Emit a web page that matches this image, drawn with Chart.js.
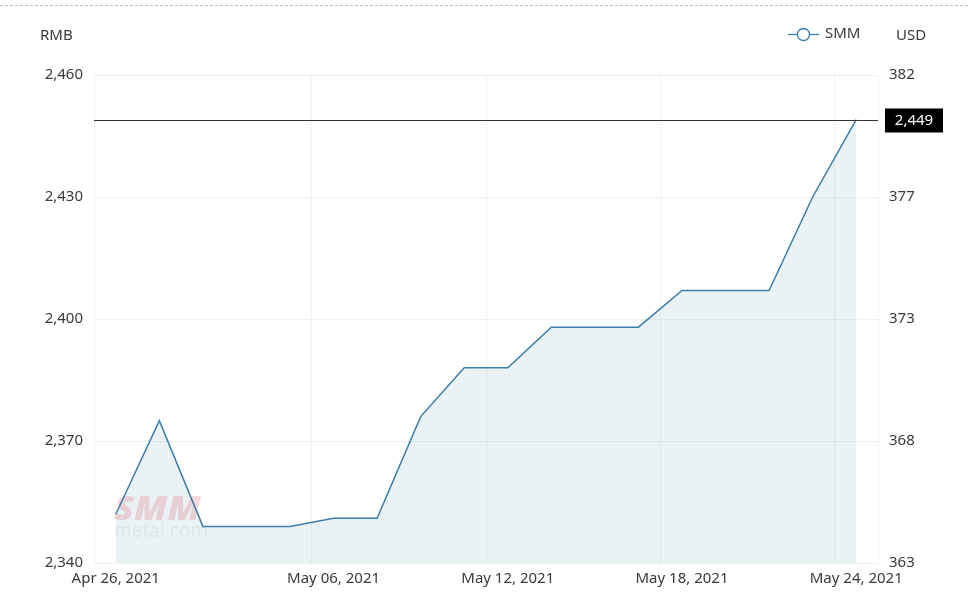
<!DOCTYPE html>
<html>
<head>
<meta charset="utf-8">
<script src="https://cdn.jsdelivr.net/npm/chart.js@4/dist/chart.umd.min.js"></script>
<style>
  html, body { margin: 0; padding: 0; background: #fff; }
  #wrap { width: 970px; height: 598px; position: relative; }
</style>
</head>
<body>
<div id="wrap"><canvas id="priceChart"></canvas></div>
<script>
const dates = [
    'Apr 26, 2021', 'Apr 27, 2021', 'Apr 28, 2021', 'Apr 29, 2021', 'Apr 30, 2021',
    'May 06, 2021', 'May 07, 2021', 'May 10, 2021', 'May 11, 2021', 'May 12, 2021',
    'May 13, 2021', 'May 14, 2021', 'May 17, 2021', 'May 18, 2021', 'May 19, 2021',
    'May 20, 2021', 'May 21, 2021', 'May 24, 2021'
];
const rmbPrices = [2352, 2375, 2349, 2349, 2349, 2351, 2351, 2376, 2388, 2388, 2398, 2398, 2398, 2407, 2407, 2407, 2430, 2449];
const shownDates = ['Apr 26, 2021', 'May 06, 2021', 'May 12, 2021', 'May 18, 2021', 'May 24, 2021'];
const gridDates = ['May 06, 2021', 'May 12, 2021', 'May 18, 2021', 'May 24, 2021'];
const rmbRange = [2340, 2460];
const rmbStep = 30;
const usdTicks = [363, 368, 373, 377, 382];
const seriesName = 'SMM';

const FONT = '"Noto Sans", "Open Sans", sans-serif';
const TEXT = '#3a3a3a';
const LINE = '#3b7dab';
const GRID = '#f1f1f1';
const FSIZE = 15;

function fmt(n) {
    return n.toLocaleString('en-US');
}

// header texts, legend, dashed top rule, watermark and last-price marker
const decorations = {
    id: 'decorations',
    beforeDraw(chart) {
        const ctx = chart.ctx;
        ctx.save();
        ctx.fillStyle = '#fff';
        ctx.fillRect(0, 0, chart.width, chart.height);
        ctx.strokeStyle = '#bbb';
        ctx.lineWidth = 1;
        ctx.setLineDash([3, 2]);
        ctx.beginPath();
        ctx.moveTo(0, 5.5);
        ctx.lineTo(chart.width, 5.5);
        ctx.stroke();
        ctx.restore();
    },
    beforeDatasetsDraw(chart) {
        const ctx = chart.ctx;
        ctx.save();
        ctx.globalAlpha = 0.2;
        ctx.fillStyle = '#f03a44';
        ctx.font = 'italic 900 36px ' + FONT;
        ctx.textBaseline = 'alphabetic';
        ctx.translate(114, 520);
        ctx.scale(1.02, 0.95);
        ctx.fillText('SMM', 0, 0);
        ctx.restore();
        ctx.save();
        ctx.globalAlpha = 0.13;
        ctx.fillStyle = '#999';
        ctx.font = '19px ' + FONT;
        ctx.fillText('metal.com', 114, 537);
        ctx.restore();
    },
    afterDraw(chart) {
        const ctx = chart.ctx;
        const area = chart.chartArea;
        const y = chart.scales.y;
        ctx.save();
        ctx.font = FSIZE + 'px ' + FONT;
        ctx.fillStyle = TEXT;
        ctx.textBaseline = 'middle';
        ctx.textAlign = 'left';
        ctx.fillText('RMB', 40, 36);
        ctx.fillText('USD', 896, 36);

        // legend
        ctx.strokeStyle = LINE;
        ctx.lineWidth = 1.3;
        ctx.beginPath();
        ctx.moveTo(788, 34.5);
        ctx.lineTo(819, 34.5);
        ctx.stroke();
        ctx.beginPath();
        ctx.arc(803.5, 34.5, 6, 0, Math.PI * 2);
        ctx.fillStyle = '#fff';
        ctx.fill();
        ctx.stroke();
        ctx.fillStyle = TEXT;
        ctx.fillText(chart.data.datasets[0].label, 825, 34);

        // last price marker
        const last = rmbPrices[rmbPrices.length - 1];
        const py = Math.round(y.getPixelForValue(last)) + 0.5;
        ctx.strokeStyle = '#333';
        ctx.lineWidth = 1;
        ctx.beginPath();
        ctx.moveTo(area.left, py);
        ctx.lineTo(area.right, py);
        ctx.stroke();
        ctx.fillStyle = '#000';
        ctx.fillRect(885, py - 12, 58, 24);
        ctx.fillStyle = '#fff';
        ctx.textAlign = 'center';
        ctx.fillText(fmt(last), 914, py);
        ctx.restore();
    }
};

new Chart(document.getElementById('priceChart'), {
    type: 'line',
    data: {
        labels: dates,
        datasets: [{
            label: seriesName,
            data: rmbPrices,
            borderColor: LINE,
            borderWidth: 1.5,
            backgroundColor: 'rgba(59, 125, 171, 0.1)',
            fill: 'start',
            pointRadius: 0,
            tension: 0,
            yAxisID: 'y'
        }]
    },
    options: {
        responsive: true,
        maintainAspectRatio: false,
        animation: false,
        layout: { padding: { top: 75, left: 0, right: 0, bottom: 0 } },
        plugins: {
            legend: { display: false },
            tooltip: { enabled: false }
        },
        scales: {
            x: {
                offset: true,
                grid: {
                    offset: true,
                    drawTicks: false,
                    color: ctx => {
                        if (ctx.type !== 'tick') return GRID;
                        return gridDates.includes(dates[ctx.index]) ? GRID : 'rgba(0,0,0,0)';
                    }
                },
                border: { display: true, color: GRID },
                ticks: {
                    autoSkip: false,
                    maxRotation: 0,
                    padding: 7,
                    color: TEXT,
                    font: { family: FONT, size: FSIZE },
                    callback: function (value, index) {
                        const label = this.getLabelForValue(value);
                        return shownDates.includes(label) ? label : '';
                    }
                },
                afterFit: scale => { scale.height = 35; }
            },
            y: {
                position: 'left',
                min: rmbRange[0],
                max: rmbRange[1],
                grid: { color: GRID, drawTicks: false },
                border: { display: true, color: GRID },
                ticks: {
                    stepSize: rmbStep,
                    padding: 11,
                    color: TEXT,
                    font: { family: FONT, size: FSIZE },
                    callback: value => fmt(value)
                },
                afterFit: scale => { scale.width = 94; }
            },
            y1: {
                position: 'right',
                min: rmbRange[0],
                max: rmbRange[1],
                grid: { display: false, drawTicks: false },
                border: { display: true, color: GRID },
                ticks: {
                    stepSize: rmbStep,
                    padding: 11,
                    color: TEXT,
                    font: { family: FONT, size: FSIZE },
                    callback: (value, index) => usdTicks[index]
                },
                afterFit: scale => { scale.width = 92; }
            }
        }
    },
    plugins: [decorations]
});
</script>
</body>
</html>
